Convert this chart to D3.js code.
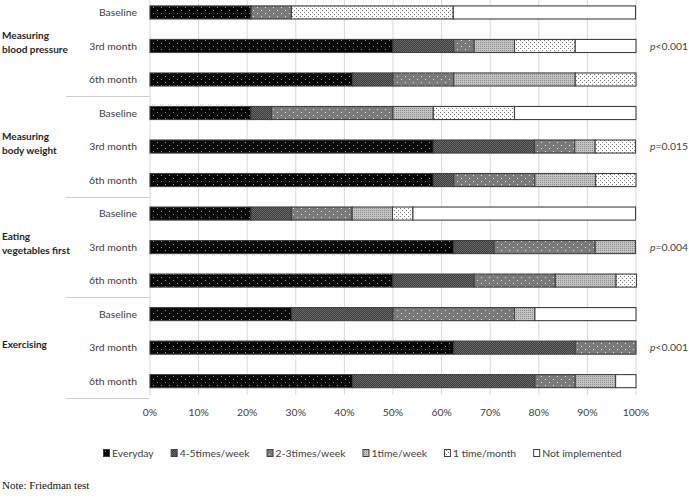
<!DOCTYPE html>
<html><head><meta charset="utf-8">
<script src="https://cdn.jsdelivr.net/npm/d3@7/dist/d3.min.js"></script>
<style>body{margin:0;background:#fff}svg{display:block}</style>
</head><body>
<script>
// ---- data ----
const groups = [["Measuring","blood pressure"],["Measuring","body weight"],["Eating","vegetables first"],["Exercising"]];
const timepoints = ["Baseline","3rd month","6th month"];
const pValues = ["<0.001","=0.015","=0.004","<0.001"];
const seriesNames = ["Everyday","4-5times/week","2-3times/week","1time/week","1 time/month","Not implemented"];
const everyday      = [20.8, 50.0, 41.7, 20.8, 58.3, 58.3, 20.8, 62.5, 50.0, 29.2, 62.5, 41.7];
const times45week   = [0, 12.5, 8.3, 4.2, 20.8, 4.2, 8.3, 8.3, 16.7, 20.8, 25.0, 37.5];
const times23week   = [8.3, 4.2, 12.5, 25.0, 8.3, 16.7, 12.5, 20.8, 16.7, 25.0, 12.5, 8.3];
const time1week     = [0, 8.3, 25.0, 8.3, 4.2, 12.5, 8.3, 8.3, 12.5, 4.2, 0, 8.3];
const time1month    = [33.3, 12.5, 12.5, 16.7, 8.3, 8.3, 4.2, 0, 4.2, 0, 0, 0];
const notImplemented= [37.5, 12.5, 0, 25.0, 0, 0, 45.8, 0, 0, 20.8, 0, 4.2];
const xTicks = [0,10,20,30,40,50,60,70,80,90,100];

const seriesValues = [everyday, times45week, times23week, time1week, time1month, notImplemented];
const rows = [];
groups.forEach((g,gi)=>timepoints.forEach((t,ti)=>{
  const i = gi*3+ti; const r = {id:i, group:gi, label:t};
  seriesNames.forEach((s,si)=>r[s]=seriesValues[si][i]);
  rows.push(r);
}));

const W=689,H=498;
const svg = d3.select("body").append("svg").attr("width",W).attr("height",H);
const font = "Lato, 'Open Sans', sans-serif";
const fs = 10.4;

// patterns
const defs = svg.append("defs");
function pat(id, w, h, bg, dots, dotColor){
  const p = defs.append("pattern").attr("id",id).attr("patternUnits","userSpaceOnUse").attr("width",w).attr("height",h);
  p.append("rect").attr("width",w).attr("height",h).attr("fill",bg);
  dots.forEach(d=>p.append("rect").attr("x",d[0]).attr("y",d[1]).attr("width",1).attr("height",1).attr("fill",dotColor));
}
pat("p0",8,6,"#050505",[[1,1],[5,4]],"#9a9a9a");
pat("p1",2,2,"#3c3c3c",[[0,0],[1,1]],"#6a6a6a");
pat("p2",8,6,"#7a7a7a",[[1,1],[5,4]],"#e8e8e8");
pat("p3",2,2,"#c4c4c4",[[0,0]],"#8c8c8c");
pat("p4",4,4,"#ffffff",[[0,0],[2,2]],"#7a7a7a");
const fills = ["url(#p0)","url(#p1)","url(#p2)","url(#p3)","url(#p4)","#ffffff"];

const x = d3.scaleLinear().domain([0,100]).range([150,636]);
const y = d3.scaleBand().domain(rows.map(r=>r.id)).range([-4.3,397.9]).paddingInner(0.61).paddingOuter(0.305);

// gridlines
svg.append("g").selectAll("line").data(xTicks).join("line")
  .attr("x1",d=>x(d)).attr("x2",d=>x(d)).attr("y1",0).attr("y2",395)
  .attr("stroke","#d9d9d9").attr("stroke-width",1);

// group separators
const step = y.step();
svg.append("g").selectAll("line").data(groups.map((g,i)=>i)).join("line")
  .attr("x1",66).attr("x2",150)
  .attr("y1",i=>Math.round(-4.3+step*3*(i+1))+0.5).attr("y2",i=>Math.round(-4.3+step*3*(i+1))+0.5)
  .attr("stroke","#cfcfcf").attr("stroke-width",1);

// stacked bars
const stack = d3.stack().keys(seriesNames)(rows);
svg.append("g").selectAll("g").data(stack).join("g")
  .attr("fill",(d,i)=>fills[i])
  .selectAll("rect").data(d=>d.filter(e=>e[1]-e[0]>0)).join("rect")
  .attr("x",d=>x(d[0])).attr("width",d=>x(d[1])-x(d[0]))
  .attr("y",d=>y(d.data.id)).attr("height",y.bandwidth())
  .attr("stroke","#404040").attr("stroke-width",1.1);

// category labels
svg.append("g").selectAll("text").data(rows).join("text")
  .attr("x",137).attr("y",d=>y(d.id)+y.bandwidth()/2).attr("dy","0.35em")
  .attr("text-anchor","end").attr("font-family",font).attr("font-size",fs).attr("fill","#404040")
  .text(d=>d.label);

// group labels
const gl = svg.append("g").selectAll("text").data(groups).join("text")
  .attr("font-family",font).attr("font-size",10).attr("font-weight","bold").attr("fill","#262626")
  .attr("y",(g,i)=>y(i*3+1)+y.bandwidth()/2 - (g.length-1)*7).attr("dy","0.35em");
gl.selectAll("tspan").data(g=>g).join("tspan").attr("x",2).attr("dy",(d,j)=>j?14:0).text(d=>d);

// p values
const pt = svg.append("g").selectAll("text").data(pValues).join("text")
  .attr("x",650).attr("y",(p,i)=>y(i*3+1)+y.bandwidth()/2).attr("dy","0.35em")
  .attr("font-family",font).attr("font-size",fs).attr("fill","#404040");
pt.append("tspan").attr("font-style","italic").text("p");
pt.append("tspan").text(d=>d);

// x axis labels
svg.append("g").selectAll("text").data(xTicks).join("text")
  .attr("x",d=>x(d)).attr("y",412).attr("dy","0.35em").attr("text-anchor","middle")
  .attr("font-family",font).attr("font-size",fs).attr("fill","#404040").text(d=>d+"%");

// legend
const lg = svg.append("g");
let lx = 103;
seriesNames.forEach((s,i)=>{
  lg.append("rect").attr("x",lx+0.5).attr("y",449.5).attr("width",6).attr("height",7)
    .attr("fill",fills[i]).attr("stroke","#404040").attr("stroke-width",1);
  const t = lg.append("text").attr("x",lx+9).attr("y",453).attr("dy","0.35em")
    .attr("font-family",font).attr("font-size",fs).attr("fill","#404040").text(s);
  lx += 9 + t.node().getComputedTextLength() + 17;
});

// note
svg.append("text").attr("x",2).attr("y",489).attr("font-family","'Liberation Serif', 'Times New Roman', serif")
  .attr("font-size",11).attr("fill","#111").text("Note: Friedman test");
</script>
</body></html>
